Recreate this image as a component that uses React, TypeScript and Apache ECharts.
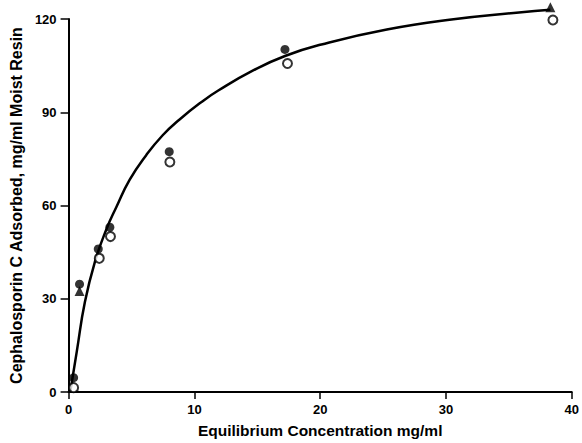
import React, { useEffect, useRef } from "react";
import * as echarts from "echarts";

const xTicks = [0, 10, 20, 30, 40];
const yTicks = [0, 30, 60, 90, 120];

const fitCurve: [number, number][] = [
  [0.15, 0.5], [0.65, 13], [1.3, 29], [2.1, 42], [3.0, 52.3], [3.8, 59.5],
  [4.86, 68.3], [6.17, 76.2], [7.48, 82.6], [8.8, 87.6], [10.6, 93.4],
  [11.9, 97], [14.6, 103.3], [17.2, 108.1], [20.1, 111.8], [25.3, 116.6],
  [30.6, 119.9], [35.8, 122.1], [38.3, 123],
];

const filledPts: [number, number][] = [
  [0.4, 4.6], [0.87, 34.7], [2.36, 46], [3.28, 53], [8.0, 77.3], [17.2, 110.2],
];
const openPts: [number, number][] = [
  [0.4, 1.4], [2.44, 43], [3.33, 50], [8.05, 74], [17.4, 105.7], [38.5, 119.7],
];
const trianglePts: [number, number][] = [
  [0.87, 32.5], [38.3, 123.8],
];

const FONT = "Liberation Sans, Arial, Helvetica, sans-serif";

export default function App() {
  const ref = useRef<HTMLDivElement>(null);
  useEffect(() => {
    document.body.style.margin = "0";
    if (!ref.current) return;
    const chart = echarts.init(ref.current, undefined, { renderer: "svg" });
    chart.setOption({
      animation: false,
      backgroundColor: "#ffffff",
      grid: { left: 65, right: 9, top: 19, bottom: 46 },
      xAxis: {
        type: "value",
        min: xTicks[0],
        max: xTicks[xTicks.length - 1],
        interval: 10,
        name: "Equilibrium Concentration mg/ml",
        nameLocation: "middle",
        nameGap: 30,
        nameTextStyle: { color: "#000", fontFamily: FONT, fontWeight: "bold", fontSize: 15.5 },
        splitLine: { show: false },
        axisLine: { show: true, lineStyle: { color: "#000", width: 2 } },
        axisTick: { show: true, length: 7, lineStyle: { color: "#000", width: 1.5 } },
        axisLabel: { color: "#000", fontFamily: FONT, fontWeight: "bold", fontSize: 13, margin: 11 },
      },
      yAxis: {
        type: "value",
        min: yTicks[0],
        max: yTicks[yTicks.length - 1],
        interval: 30,
        name: "Cephalosporin C Adsorbed, mg/ml Moist Resin",
        nameLocation: "middle",
        nameGap: 36,
        nameTextStyle: { color: "#000", fontFamily: FONT, fontWeight: "bold", fontSize: 16 },
        splitLine: { show: false },
        axisLine: { show: true, lineStyle: { color: "#000", width: 2 } },
        axisTick: { show: true, length: 8, lineStyle: { color: "#000", width: 1.5 } },
        axisLabel: { color: "#000", fontFamily: FONT, fontWeight: "bold", fontSize: 13, margin: 12 },
      },
      series: [
        {
          type: "line",
          data: fitCurve,
          smooth: 0.5,
          showSymbol: false,
          clip: false,
          lineStyle: { color: "#000", width: 2.5 },
          z: 1,
        },
        {
          type: "scatter",
          data: openPts,
          symbol: "circle",
          symbolSize: 9,
          clip: false,
          itemStyle: { color: "#fff", borderColor: "#000", borderWidth: 2 },
          z: 2,
        },
        {
          type: "scatter",
          data: trianglePts,
          symbol: "triangle",
          symbolSize: 10,
          clip: false,
          itemStyle: { color: "#000" },
          z: 3,
        },
        {
          type: "scatter",
          data: filledPts,
          symbol: "circle",
          symbolSize: 9,
          clip: false,
          itemStyle: { color: "#000" },
          z: 4,
        },
      ],
    });
    return () => chart.dispose();
  }, []);
  return <div ref={ref} style={{ width: 582, height: 443 }} />;
}
